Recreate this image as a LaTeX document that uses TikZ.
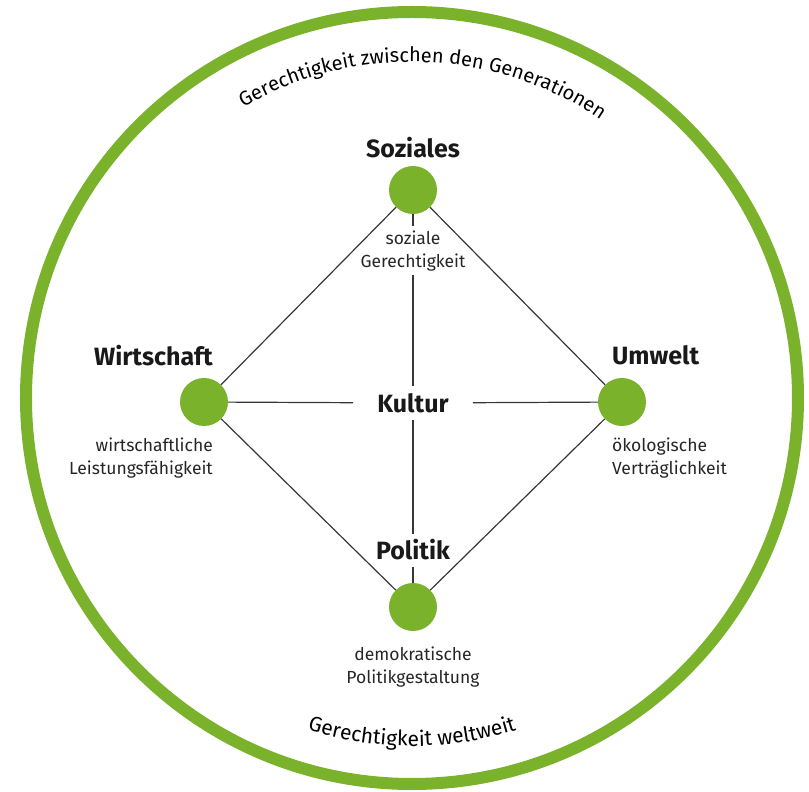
\documentclass[tikz,border=0pt]{standalone}
\usepackage{fontspec}
\setmainfont{Fira Sans}
\usepackage{xcolor}
\usepackage{tikz}
\usetikzlibrary{positioning,decorations.text}
\definecolor{gruen}{RGB}{122,178,44}
\definecolor{dunkel}{RGB}{55,55,55}

\begin{document}
\begin{tikzpicture}[
      x=1pt,y=1pt,
      punkt/.style={
         circle,
         fill=gruen,
         % draw=black,
         inner sep=0pt,
         minimum size=48pt},
      titel/.style={
         font=\fontsize{25}{29}\selectfont\bfseries,
         text=black!90,
         inner sep=0pt},
      klein/.style={
         font=\fontsize{17.5}{23}\selectfont,
         text=black!85,
         align=center,
         inner sep=0pt},
      verbindung/.style={draw=dunkel, line width=1.2pt},
      ring/.style={draw=gruen, line width=12pt}
      ]
\useasboundingbox (-412,-394) rectangle (397,398);
\draw[ring] (0,0) circle (386);

\node[punkt] (soz) at (1,208)  {};
\node[punkt] (wir) at (-208,-4) {};
\node[punkt] (umw) at (210,-4) {};
\node[punkt] (pol) at (1,-209) {};
\node[titel,inner xsep=24pt,inner ysep=7pt] (kul) at (1,-5) {Kultur};

% Titel
\node[titel,anchor=base     ] (sozT) at (1,240)    {Soziales};
\node[titel,anchor=base east] (wirT) at (-199,32)  {Wirtschaft};
\node[titel,anchor=base west] (umwT) at (200,33)   {Umwelt};
\node[titel,anchor=base,inner sep=6pt] (polT) at (1,-162) {Politik};

% Unterzeilen
\node[klein,inner sep=4pt,below=12pt of soz] (sozU) {soziale\\Gerechtigkeit};
\node[klein,align=right,anchor=north east] (wirU) at (-199,-40) {wirtschaftliche\\Leistungsfähigkeit};
\node[klein,align=left,anchor=north west ] (umwU) at (200,-40)  {ökologische\\Verträglichkeit};
\node[klein,below=15pt of pol] (polU) {demokratische\\Politikgestaltung};

\foreach \i/\j in {% start node/end node
      soz/wir, soz/umw, pol/wir, pol/umw,
      wir/kul, umw/kul,
      soz/sozU, sozU/kul,
      kul/polT, polT/pol}
       \draw[verbindung] (\i) -- (\j);

% Ringtexte
\path[decorate,decoration={text along path,text align=center,
      text={|\fontsize{20}{20}\selectfont|Gerechtigkeit zwischen den Generationen}}]
      (178:336) arc[start angle=178,end angle=-2,radius=336];
\path[decorate,decoration={text along path,text align=center,
      text={|\fontsize{21}{21}\selectfont|Gerechtigkeit weltweit}}]
      (-160:348) arc[start angle=-160,end angle=-20,radius=348];

\end{tikzpicture}
\end{document}
